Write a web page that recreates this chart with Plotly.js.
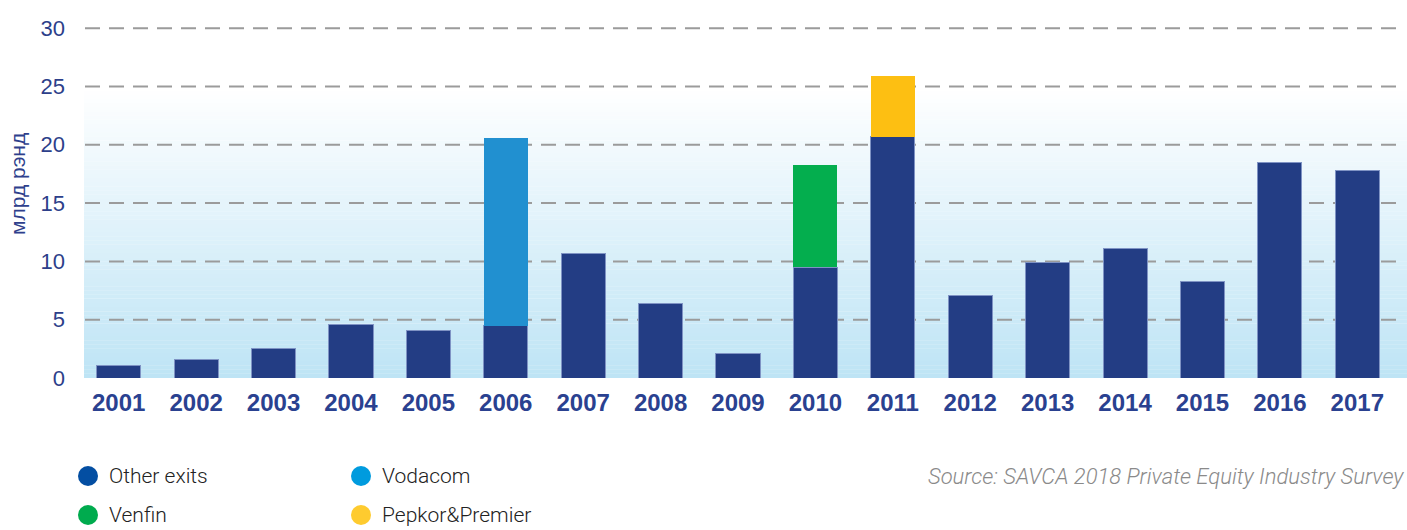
<!DOCTYPE html>
<html>
<head>
<meta charset="utf-8">
<script src="https://cdn.plot.ly/plotly-3.0.1.min.js"></script>
<style>html,body{margin:0;padding:0;background:#fff;}#chart{width:1407px;height:530px;}</style>
</head>
<body>
<div id="chart"></div>
<script>
// ---- data ----
const years = ['2001','2002','2003','2004','2005','2006','2007','2008','2009','2010','2011','2012','2013','2014','2015','2016','2017'];
const otherExits = [1.1, 1.6, 2.5, 4.6, 4.1, 4.5, 10.65, 6.35, 2.1, 9.5, 20.7, 7.1, 9.9, 11.1, 8.3, 18.45, 17.8];
const vodacom   = [null,null,null,null,null,16.1,null,null,null,null,null,null,null,null,null,null,null];
const venfin    = [null,null,null,null,null,null,null,null,null,8.8,null,null,null,null,null,null,null];
const pepkor    = [null,null,null,null,null,null,null,null,null,null,5.2,null,null,null,null,null,null];
const seriesNames = ['Other exits','Vodacom','Venfin','Pepkor&Premier'];
const barColors = ['#233d84','#2190d0','#04ae4e','#fdbf12'];
const legendColors = ['#034ea2','#009bde','#00ab4e','#fecb2f'];
const yTicks = [0,5,10,15,20,25,30];
const yTitle = 'млрд рэнд';
const sourceText = 'Source: SAVCA 2018 Private Equity Industry Survey';

// ---- layout helpers ----
const W = 1407, H = 530, ML = 80, MR = 11, MT = 27, MB = 152;
const PW = W - ML - MR, PH = H - MT - MB;
const px2x = p => (p - ML) / PW;
const px2y = p => (H - MB - p) / PH;

const seriesData = [otherExits, vodacom, venfin, pepkor];
const traces = seriesData.map((d, i) => ({
  type: 'bar', x: years, y: d, name: seriesNames[i],
  marker: {color: barColors[i], line: {color: i === 0 ? '#7f93c4' : barColors[i], width: i === 0 ? 1 : 0}},
  showlegend: false, hoverinfo: 'x+y+name'
}));

// gradient background (style only)
const shapes = [];
const N = 70, gTop = 25;
const c0 = [190, 228, 245], c1 = [255, 255, 255];
for (let i = 0; i < N; i++) {
  const t = (i + 0.5) / N;
  const c = c0.map((v, k) => Math.round(v + (c1[k] - v) * t));
  shapes.push({type: 'rect', layer: 'below', xref: 'paper', yref: 'y',
    x0: px2x(84), x1: px2x(1407), y0: gTop * i / N, y1: gTop * (i + 1) / N + 0.02,
    fillcolor: `rgb(${c[0]},${c[1]},${c[2]})`, line: {width: 0}});
}
// dashed gridlines
yTicks.filter(v => v > 0).forEach(v => {
  shapes.push({type: 'line', layer: 'below', xref: 'paper', yref: 'y',
    x0: px2x(85), x1: px2x(1400), y0: v, y1: v,
    line: {color: '#9b9b9b', width: 2, dash: '15px,9px'}});
});

// legend drawn as circles + labels
const annotations = [];
const legendPos = [[88, 476], [361, 476], [88, 515], [361, 515]];
const legendOrder = [0, 1, 2, 3];
legendOrder.forEach((si, j) => {
  const [cx, cy] = legendPos[j];
  shapes.push({type: 'circle', xref: 'paper', yref: 'paper', xsizemode: 'pixel', ysizemode: 'pixel',
    xanchor: px2x(cx), yanchor: px2y(cy), x0: -10, x1: 10, y0: -10, y1: 10,
    fillcolor: legendColors[si], line: {width: 0}});
  annotations.push({xref: 'paper', yref: 'paper', x: px2x(cx + 19), y: px2y(cy), xanchor: 'left', yanchor: 'middle',
    text: seriesNames[si], showarrow: false,
    font: {family: 'Roboto, Liberation Sans, sans-serif', size: 21, weight: 300, color: '#222'}});
});
annotations.push({xref: 'paper', yref: 'paper', x: px2x(1406), y: px2y(477), xanchor: 'right', yanchor: 'middle',
  text: sourceText, showarrow: false,
  font: {family: 'Roboto, Liberation Sans, sans-serif', size: 22, weight: 300, style: 'italic', color: '#8a8a8a'}});
annotations.push({xref: 'paper', yref: 'paper', x: px2x(17), y: px2y(184), xanchor: 'center', yanchor: 'middle',
  text: yTitle, textangle: -90, showarrow: false,
  font: {family: 'Liberation Sans, Arial, sans-serif', size: 21, color: '#2e3f8c'}});

const layout = {
  width: W, height: H,
  margin: {l: ML, r: MR, t: MT, b: MB, pad: 0},
  paper_bgcolor: '#ffffff', plot_bgcolor: 'rgba(0,0,0,0)',
  barmode: 'stack', bargap: 0.43,
  showlegend: false,
  xaxis: {type: 'category', showgrid: false, zeroline: false, showline: false, ticks: '',
    tickfont: {family: 'Liberation Sans, Arial, sans-serif', size: 24, weight: 'bold', color: '#2a4190'},
    ticklabelstandoff: 8, fixedrange: true},
  yaxis: {range: [0, 30.1], tickvals: yTicks, showgrid: false, zeroline: false, showline: false, ticks: '',
    tickfont: {family: 'Liberation Sans, Arial, sans-serif', size: 22, color: '#2d3f8a'},
    ticklabelstandoff: 14, fixedrange: true},
  shapes: shapes, annotations: annotations
};
Plotly.newPlot('chart', traces, layout, {displayModeBar: false, staticPlot: true});
</script>
</body>
</html>
